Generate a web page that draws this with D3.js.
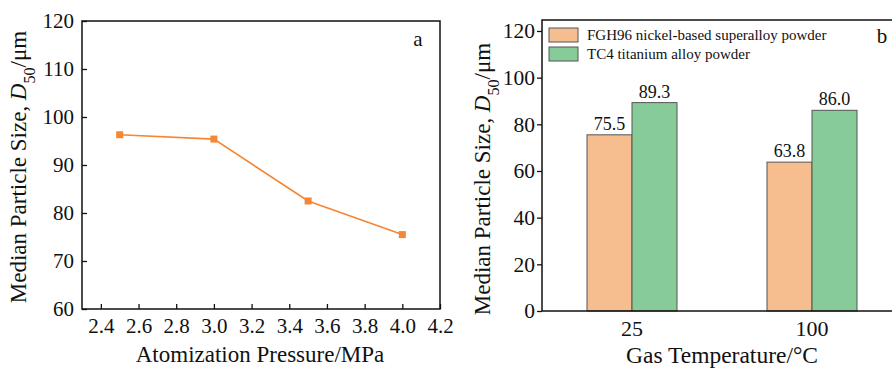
<!DOCTYPE html>
<html>
<head>
<meta charset="utf-8">
<script src="https://cdn.jsdelivr.net/npm/d3@7"></script>
<style>
  body { margin: 0; background: #fff; }
  svg text { font-family: "Liberation Serif", "Times New Roman", serif; fill: #111; }
</style>
</head>
<body>
<div id="content"></div>
<script>
// panel a data
var pressure = [2.5, 3.0, 3.5, 4.0];
var d50 = [96.3, 95.4, 82.5, 75.5];
var pressureTicks = [2.4, 2.6, 2.8, 3.0, 3.2, 3.4, 3.6, 3.8, 4.0, 4.2];

// panel b data
var temps = ['25', '100'];
var seriesNames = ['FGH96 nickel-based superalloy powder', 'TC4 titanium alloy powder'];
var fgh96 = [75.5, 63.8];
var tc4 = [89.3, 86.0];
var seriesColors = ['#f6bd8f', '#87cb98'];

var width = 892, height = 370;
var svg = d3.select('#content').append('svg')
  .attr('width', width).attr('height', height);

// y label helper with italic D and subscript 50
function yLabel(g, x, y, size) {
  var t = g.append('text')
    .attr('transform', 'translate(' + x + ',' + y + ') rotate(-90)')
    .attr('text-anchor', 'middle')
    .style('font-size', size + 'px');
  t.append('tspan').text('Median Particle Size, ');
  t.append('tspan').style('font-style', 'italic').text('D');
  t.append('tspan').attr('baseline-shift', 'sub').style('font-size', (size * 0.7) + 'px').text('50');
  t.append('tspan').text('/\u03bcm');
}

// ---- panel a ----
var a = { left: 82, right: 440, top: 21, bottom: 309 };
var xa = d3.scaleLinear().domain([2.3, 4.2]).range([a.left, a.right]);
var ya = d3.scaleLinear().domain([60, 120]).range([a.bottom, a.top]);

var ga = svg.append('g');
ga.append('g')
  .attr('transform', 'translate(0,' + a.bottom + ')')
  .call(d3.axisBottom(xa).tickValues(pressureTicks).tickFormat(d3.format('.1f'))
    .tickSizeInner(-5).tickSizeOuter(0).tickPadding(9))
  .call(function(g) { g.select('.domain').remove(); })
  .selectAll('text').style('font-size', '21px');
ga.append('g')
  .attr('transform', 'translate(' + a.left + ',0)')
  .call(d3.axisLeft(ya).tickValues(d3.range(60, 121, 10))
    .tickSizeInner(-5).tickSizeOuter(0).tickPadding(8))
  .call(function(g) { g.select('.domain').remove(); })
  .selectAll('text').style('font-size', '21px');
ga.selectAll('.tick line').attr('stroke', '#111').attr('stroke-width', 1.3);

ga.append('rect')
  .attr('x', a.left).attr('y', a.top)
  .attr('width', a.right - a.left).attr('height', a.bottom - a.top)
  .attr('fill', 'none').attr('stroke', '#111').attr('stroke-width', 1.5);

var pts = pressure.map(function(p, i) { return [p, d50[i]]; });
ga.append('path')
  .datum(pts)
  .attr('fill', 'none')
  .attr('stroke', '#f58634')
  .attr('stroke-width', 1.6)
  .attr('d', d3.line().x(function(d) { return xa(d[0]); }).y(function(d) { return ya(d[1]); }));
ga.selectAll('rect.pt')
  .data(pts)
  .enter().append('rect')
  .attr('class', 'pt')
  .attr('x', function(d) { return xa(d[0]) - 3.5; })
  .attr('y', function(d) { return ya(d[1]) - 3.5; })
  .attr('width', 7).attr('height', 7)
  .attr('fill', '#f58634');

ga.append('text').attr('x', 418).attr('y', 46)
  .attr('text-anchor', 'middle').style('font-size', '21px').text('a');
ga.append('text').attr('x', (a.left + a.right) / 2 - 1).attr('y', 362)
  .attr('text-anchor', 'middle').style('font-size', '23px').text('Atomization Pressure/MPa');
yLabel(ga, 26, 167, 23);

// ---- panel b ----
var b = { left: 542, right: 902, top: 20, bottom: 311 };
var x0 = d3.scaleBand().domain(temps).range([b.left, b.right]).padding(0);
var x1 = d3.scaleBand().domain(seriesNames).range([0, x0.bandwidth()])
  .paddingInner(0).paddingOuter(1);
var yb = d3.scaleLinear().domain([0, 124.7]).range([b.bottom, b.top]);

var gb = svg.append('g');
gb.append('g')
  .attr('transform', 'translate(' + b.left + ',0)')
  .call(d3.axisLeft(yb).tickValues(d3.range(0, 121, 20))
    .tickSizeInner(5).tickSizeOuter(0).tickPadding(2))
  .call(function(g) { g.select('.domain').remove(); })
  .selectAll('text').style('font-size', '21.5px');
gb.append('g')
  .attr('transform', 'translate(0,' + b.bottom + ')')
  .call(d3.axisBottom(x0).tickSize(0).tickPadding(9))
  .call(function(g) { g.select('.domain').remove(); })
  .selectAll('text').style('font-size', '22px');
gb.selectAll('.tick line').attr('stroke', '#111').attr('stroke-width', 1.3);

var rows = [];
temps.forEach(function(t, i) {
  rows.push({ cat: t, s: seriesNames[0], v: fgh96[i], c: seriesColors[0] });
  rows.push({ cat: t, s: seriesNames[1], v: tc4[i], c: seriesColors[1] });
});

gb.selectAll('rect.bar')
  .data(rows)
  .enter().append('rect')
  .attr('class', 'bar')
  .attr('x', function(d) { return x0(d.cat) + x1(d.s); })
  .attr('y', function(d) { return yb(d.v); })
  .attr('width', x1.bandwidth())
  .attr('height', function(d) { return yb(0) - yb(d.v); })
  .attr('fill', function(d) { return d.c; })
  .attr('stroke', '#555').attr('stroke-width', 1);

gb.selectAll('text.val')
  .data(rows)
  .enter().append('text')
  .attr('class', 'val')
  .attr('x', function(d) { return x0(d.cat) + x1(d.s) + x1.bandwidth() / 2; })
  .attr('y', function(d) { return yb(d.v) - 5; })
  .attr('text-anchor', 'middle')
  .style('font-size', '18px')
  .text(function(d) { return d.v.toFixed(1); });

gb.append('rect')
  .attr('x', b.left).attr('y', b.top)
  .attr('width', b.right - b.left).attr('height', b.bottom - b.top)
  .attr('fill', 'none').attr('stroke', '#111').attr('stroke-width', 1.5);

// legend
var leg = gb.selectAll('g.leg')
  .data(seriesNames)
  .enter().append('g')
  .attr('class', 'leg')
  .attr('transform', function(d, i) { return 'translate(549,' + (28 + i * 19) + ')'; });
leg.append('rect')
  .attr('width', 29).attr('height', 14)
  .attr('fill', function(d, i) { return seriesColors[i]; })
  .attr('stroke', '#555').attr('stroke-width', 1);
leg.append('text')
  .attr('x', 38).attr('y', 12)
  .style('font-size', '15px')
  .text(function(d) { return d; });

gb.append('text').attr('x', 882).attr('y', 43)
  .attr('text-anchor', 'middle').style('font-size', '21px').text('b');
gb.append('text').attr('x', 722).attr('y', 363)
  .attr('text-anchor', 'middle').style('font-size', '23.5px').text('Gas Temperature/\u00b0C');
yLabel(gb, 490, 179, 23);
</script>
</body>
</html>
